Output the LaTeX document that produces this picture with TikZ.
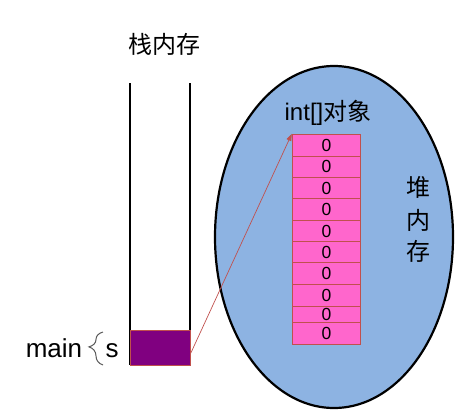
\documentclass[tikz,border=0pt]{standalone}
\usepackage{fontspec}
\setmainfont{Liberation Sans}
\newfontfamily\cjk{Noto Sans CJK SC}
\usetikzlibrary{arrows.meta,decorations.pathreplacing,calc}
\definecolor{heapblue}{HTML}{8DB3E2}
\definecolor{cellpink}{HTML}{FF66CC}
\definecolor{cellred}{HTML}{C0504D}
\definecolor{boxpurple}{HTML}{800080}
\tikzset{
  cell/.style={draw=cellred,line width=1pt,fill=cellpink,inner sep=0pt,font=\fontsize{17.5}{17.5}\selectfont},
  lbl/.style={inner sep=0pt,font=\fontsize{24}{24}\selectfont},
  stackline/.style={line width=1.8pt,black},
  ptr/.style={draw=cellred,line width=0.7pt,-{Triangle[length=7pt,width=5pt]}},
}
\begin{document}
\begin{tikzpicture}[x=1pt,y=-1pt]
\useasboundingbox (0,0) rectangle (463,416);
% heap ellipse
\draw[line width=2.2pt,fill=heapblue] (334,237) ellipse [x radius=119,y radius=171];
% stack title
\node[lbl] (stacktitle) at (164,44) {\cjk 栈内存};
% stack lines
\coordinate (lt) at (130,83);
\coordinate (lb) at (130,365);
\coordinate (rt) at (190,83);
\coordinate (rb) at (190,330);
\draw[stackline] (lt) -- (lb);
\draw[stackline] (rt) -- (rb);
% purple box for s
\node[draw=cellred,line width=1pt,fill=boxpurple,minimum width=60pt,minimum height=35pt,inner sep=0pt] (s) at (160.3,347.6) {};
% labels main { s
\node[inner sep=0pt,font=\fontsize{26}{26}\selectfont,anchor=base] (main) at (54,357) {main};
\node[inner sep=0pt,font=\fontsize{26}{26}\selectfont,anchor=base] (svar) at (112,357) {s};
\coordinate (bt) at (103,332);
\coordinate (bb) at (103,365);
\draw[gray!70!black,line width=1pt,decorate,decoration={brace,amplitude=14pt,aspect=0.45,mirror}] (bt) -- (bb);
% array title
\node[lbl] (arrtitle) at (328,113) {int[]{\cjk 对象}};
% heap label
\node[lbl] (h1) at (418,187) {\cjk 堆};
\node[lbl] (h2) at (418,220) {\cjk 内};
\node[lbl] (h3) at (418,251) {\cjk 存};
% array cells
\foreach \i/\a/\b in {0/134.3/156,1/156/177.3,2/177.3/198.3,3/198.3/220,4/220/241.7,5/241.7/262.7,6/262.7/284.3,7/284.3/306,8/306/322.3,9/322.3/344}{
  \node[cell,minimum width=68.4pt,minimum height={\b-\a},text height=12.5pt,text depth=0pt] (c\i) at (326.5,{(\a+\b)/2}) {0};
}
% pointer arrow
\draw[ptr] ([yshift=-5.5pt]s.east) -- (c0.north west);
\end{tikzpicture}
\end{document}
